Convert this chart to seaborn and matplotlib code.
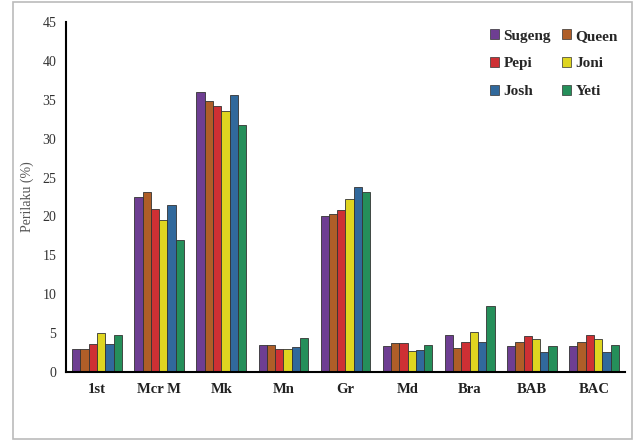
import matplotlib
matplotlib.use("Agg")
import matplotlib.pyplot as plt
import seaborn as sns
import pandas as pd
from matplotlib.patches import Rectangle

categories = ["1st", "Mcr M", "Mk", "Mn", "Gr", "Md", "Bra", "BAB", "BAC"]
series_names = ["Sugeng", "Queen", "Pepi", "Joni", "Josh", "Yeti"]
sugeng = [3.0, 22.5, 36.0, 3.5, 20.0, 3.3, 4.7, 3.3, 3.3]
queen = [3.0, 23.1, 34.9, 3.5, 20.3, 3.7, 3.1, 3.8, 3.8]
pepi = [3.6, 21.0, 34.2, 3.0, 20.8, 3.7, 3.8, 4.6, 4.8]
joni = [5.0, 19.6, 33.5, 2.9, 22.3, 2.7, 5.1, 4.3, 4.3]
josh = [3.6, 21.5, 35.6, 3.2, 23.8, 2.8, 3.9, 2.6, 2.6]
yeti = [4.8, 17.0, 31.7, 4.4, 23.2, 3.5, 8.5, 3.3, 3.5]
y_ticks = [0, 5, 10, 15, 20, 25, 30, 35, 40, 45]

colors = ["#7030A0", "#C55A11", "#E8161B", "#FFF200", "#1F6AAE", "#14A05A"]

rows = []
for name, vals in zip(series_names, [sugeng, queen, pepi, joni, josh, yeti]):
    for cat, v in zip(categories, vals):
        rows.append({"Kategori": cat, "Nama": name, "Nilai": v})
df = pd.DataFrame(rows)

sns.set_theme(style="white")
plt.rcParams["font.family"] = ["Liberation Serif", "DejaVu Serif"]

fig = plt.figure(figsize=(6.36, 4.41), dpi=100)
ax = fig.add_axes([66 / 636, 1 - 372 / 441, (625 - 66) / 636, (372 - 22) / 441])

sns.barplot(data=df, x="Kategori", y="Nilai", hue="Nama", order=categories,
            hue_order=series_names, palette=colors, width=0.8,
            edgecolor="#333333", linewidth=0.6, ax=ax, legend=True)

ax.set_ylim(0, 45)
ax.set_xlim(-0.5, len(categories) - 0.5)
ax.set_yticks(y_ticks)
ax.set_yticklabels([str(t) for t in y_ticks], fontsize=10, color="#333333")
ax.set_xlabel("")
ax.set_ylabel("Perilaku (%)", fontsize=10, color="#555555", labelpad=6)
for lbl in ax.get_xticklabels():
    lbl.set_fontweight("bold")
    lbl.set_fontsize(10.5)
    lbl.set_color("#222222")

ax.tick_params(axis="x", which="major", length=0, pad=8)
ax.set_xticks([i + 0.5 for i in range(len(categories) - 1)], minor=True)
ax.tick_params(axis="x", which="minor", length=4, width=1.2, direction="out", color="black")
ax.tick_params(axis="y", length=4, width=1.2, direction="out", color="black", pad=3)

sns.despine(ax=ax)
for side in ["left", "bottom"]:
    ax.spines[side].set_color("black")
    ax.spines[side].set_linewidth(1.5)

# legend filled row by row: Sugeng Queen / Pepi Joni / Josh Yeti
handles, labels = ax.get_legend_handles_labels()
order = [0, 2, 4, 1, 3, 5]
leg = ax.legend([handles[i] for i in order], [labels[i] for i in order],
                ncol=2, loc="upper right", bbox_to_anchor=(1.012, 1.018), frameon=False,
                prop={"weight": "bold", "size": 11}, handlelength=0.6, handleheight=0.6,
                handletextpad=0.3, columnspacing=0.7, labelspacing=0.95)
for h in leg.legend_handles:
    h.set_edgecolor("#333333")
    h.set_linewidth(0.5)

fig.patches.append(Rectangle((13 / 636, 2 / 441), (632 - 13) / 636, (439 - 2) / 441,
                             transform=fig.transFigure, fill=False,
                             edgecolor="#BBBBBB", linewidth=1.2))

fig.savefig("out.png", dpi=100)
